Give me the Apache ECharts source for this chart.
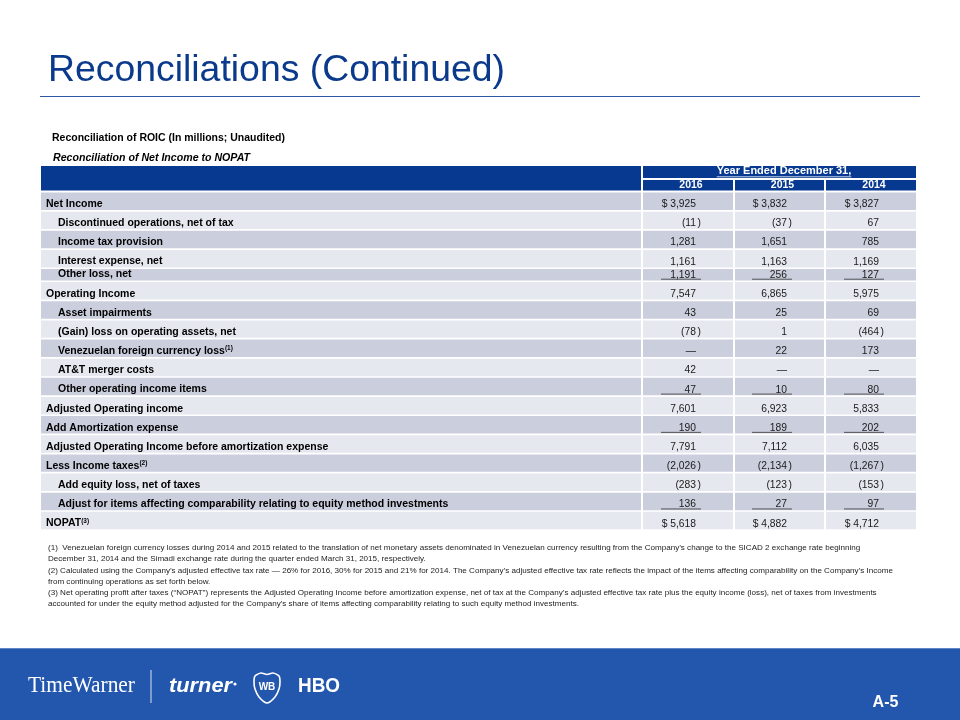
<!DOCTYPE html>
<html><head><meta charset="utf-8">
<script src="https://cdn.jsdelivr.net/npm/echarts@6/dist/echarts.min.js"></script>
<style>html,body{margin:0;padding:0;background:#fff}#c{width:960px;height:720px}</style>
</head><body><div id="c"></div>
<script>
// ---------- DATA ----------
const rowLabels = [
  'Net Income',
  'Discontinued operations, net of tax',
  'Income tax provision',
  'Interest expense, net',
  'Other loss, net',
  'Operating Income',
  'Asset impairments',
  '(Gain) loss on operating assets, net',
  'Venezuelan foreign currency loss',
  'AT&T merger costs',
  'Other operating income items',
  'Adjusted Operating income',
  'Add Amortization expense',
  'Adjusted Operating Income before amortization expense',
  'Less Income taxes',
  'Add equity loss, net of taxes',
  'Adjust for items affecting comparability relating to equity method investments',
  'NOPAT'
];
const footnoteRefs = ['', '', '', '', '', '', '', '', '(1)', '', '', '', '', '', '(2)', '', '', '(3)'];
const indentedRows = [1, 2, 3, 4, 6, 7, 8, 9, 10, 15, 16];
const underlinedRows = [4, 10, 12, 16];
const dollarRows = [0, 17];
const years = ['2016', '2015', '2014'];
const values2016 = [3925, -11, 1281, 1161, 1191, 7547, 43, -78, null, 42, 47, 7601, 190, 7791, -2026, -283, 136, 5618];
const values2015 = [3832, -37, 1651, 1163, 256, 6865, 25, 1, 22, null, 10, 6923, 189, 7112, -2134, -123, 27, 4882];
const values2014 = [3827, 67, 785, 1169, 127, 5975, 69, -464, 173, null, 80, 5833, 202, 6035, -1267, -153, 97, 4712];
const titleText = 'Reconciliations (Continued)';
const subtitle1 = 'Reconciliation of ROIC (In millions; Unaudited)';
const subtitle2 = 'Reconciliation of Net Income to NOPAT';
const headerText = 'Year Ended December 31,';
const footnotes = [
  '(1)  Venezuelan foreign currency losses during 2014 and 2015 related to the translation of net monetary assets denominated in Venezuelan currency resulting from the Company\u2019s change to the SICAD 2 exchange rate beginning',
  'December 31, 2014 and the Simadi exchange rate during the quarter ended March 31, 2015, respectively.',
  '(2) Calculated using the Company\u2019s adjusted effective tax rate \u2014 26% for 2016, 30% for 2015 and 21% for 2014. The Company\u2019s adjusted effective tax rate reflects the impact of the items affecting comparability on the Company\u2019s Income',
  'from continuing operations as set forth below.',
  '(3) Net operating profit after taxes (\u201cNOPAT\u201d) represents the Adjusted Operating Income before amortization expense, net of tax at the Company\u2019s adjusted effective tax rate plus the equity income (loss), net of taxes from investments',
  'accounted for under the equity method adjusted for the Company\u2019s share of items affecting comparability relating to such equity method investments.'
];
const pageLabel = 'A-5';

// ---------- STYLE / LAYOUT ----------
const FONT = '"Liberation Sans", Arial, Helvetica, sans-serif';
const SERIF = '"Liberation Serif", "Times New Roman", serif';
const HDR_BLUE = '#06398f';
const TITLE_BLUE = '#0b3a8c';
const ROW_DARK = '#cbcfdd';
const ROW_LIGHT = '#e6e8f0';
const FOOTER_BLUE = '#2357ae';
const TABLE_LEFT = 41, TABLE_W = 875, BODY_TOP = 192.5, BODY_H = 338.5;
const LABEL_COL = [0, 600];
const YEAR_COLS = [[602, 692], [694, 783], [785, 875]];
const SHORT_ROWS = [4];
const ROW_GAP = 1.7;
const rowUnits = rowLabels.map((_, i) => SHORT_ROWS.includes(i) ? 0.68 : 1);
const rowTop = [];
let acc = 0;
rowUnits.forEach(u => { rowTop.push(acc); acc += u; });
const TOTAL_UNITS = acc;

const mctx = document.createElement('canvas').getContext('2d');
function textW(t, font) { mctx.font = font; return mctx.measureText(t).width; }

function fmtVal(v, dollar) {
  if (v === null || isNaN(v)) return { main: '\u2014', paren: false };
  const s = Math.abs(v).toLocaleString('en-US');
  if (v < 0) return { main: '(' + s, paren: true };
  return { main: (dollar ? '$ ' : '') + s, paren: false };
}

function renderLabel(params, api) {
  const i = api.value(1);
  const p0 = api.coord([LABEL_COL[0], rowTop[i]]);
  const p1 = api.coord([LABEL_COL[1], rowTop[i] + rowUnits[i]]);
  const h = p1[1] - p0[1] - ROW_GAP;
  const bottom = p0[1] + h;
  const ref = footnoteRefs[i];
  const txt = ref ? '{a|' + rowLabels[i] + '}{s|' + ref + '}' : '{a|' + rowLabels[i] + '}';
  return {
    type: 'group',
    children: [
      { type: 'rect', shape: { x: p0[0], y: p0[1], width: p1[0] - p0[0], height: h }, style: { fill: i % 2 === 0 ? ROW_DARK : ROW_LIGHT } },
      { type: 'text', x: p0[0] + (indentedRows.includes(i) ? 17 : 5), y: bottom - 5.8,
        style: { text: txt, align: 'left', verticalAlign: 'middle',
          rich: {
            a: { fontSize: 10.5, fontWeight: 'bold', fontFamily: FONT, fill: '#000', lineHeight: 12 },
            s: { fontSize: 6.5, fontWeight: 'bold', fontFamily: FONT, fill: '#000', verticalAlign: 'top', lineHeight: 12, padding: [0, 0, 3, 0] }
          } } }
    ]
  };
}

function makeValueRender(k) {
  return function (params, api) {
    const i = api.value(0);
    const v = api.value(1);
    const col = YEAR_COLS[k];
    const p0 = api.coord([col[0], rowTop[i]]);
    const p1 = api.coord([col[1], rowTop[i] + rowUnits[i]]);
    const h = p1[1] - p0[1] - ROW_GAP;
    const bottom = p0[1] + h;
    const ax = p1[0] - 37;
    const f = fmtVal(v, dollarRows.includes(i));
    const ts = { fontSize: 10.3, fontFamily: FONT, fill: '#1a1a1a', verticalAlign: 'middle' };
    const children = [
      { type: 'rect', shape: { x: p0[0], y: p0[1], width: p1[0] - p0[0], height: h }, style: { fill: i % 2 === 0 ? ROW_DARK : ROW_LIGHT } },
      { type: 'text', x: ax, y: bottom - 5.6, style: Object.assign({ text: f.main, align: 'right' }, ts) }
    ];
    if (f.paren) children.push({ type: 'text', x: ax + 1.5, y: bottom - 5.6, style: Object.assign({ text: ')', align: 'left' }, ts) });
    if (underlinedRows.includes(i)) children.push({ type: 'line', shape: { x1: ax - 35, y1: bottom - 1.2, x2: ax + 5, y2: bottom - 1.2 }, style: { stroke: '#333', lineWidth: 0.8 } });
    return { type: 'group', children };
  };
}

// ---------- GRAPHIC (title, header, footer) ----------
function fitText(opts) {
  const font = (opts.italic ? 'italic ' : '') + (opts.bold ? 'bold ' : '') + opts.size + 'px ' + (opts.family || FONT);
  const w = textW(opts.text, font);
  const sx = opts.target ? opts.target / w : 1;
  return {
    type: 'text', x: opts.x, y: opts.y, scaleX: sx, originX: 0, originY: 0,
    style: { text: opts.text, fontSize: opts.size, fontFamily: opts.family || FONT,
      fontWeight: opts.bold ? 'bold' : 'normal', fontStyle: opts.italic ? 'italic' : 'normal',
      fill: opts.fill || '#000', align: opts.align || 'left', verticalAlign: 'middle' }
  };
}

const graphics = [];
graphics.push(fitText({ text: titleText, x: 48, y: 71, size: 36, fill: TITLE_BLUE, target: 457 }));
graphics.push({ type: 'line', shape: { x1: 40, y1: 96.5, x2: 920, y2: 96.5 }, style: { stroke: '#2f56a3', lineWidth: 1.2 } });
graphics.push(fitText({ text: subtitle1, x: 52, y: 137.5, size: 11, bold: true, target: 233 }));
graphics.push(fitText({ text: subtitle2, x: 53, y: 158, size: 11, bold: true, italic: true, target: 197 }));
// header
graphics.push({ type: 'rect', shape: { x: 41, y: 166, width: 600, height: 24.5 }, style: { fill: HDR_BLUE } });
graphics.push({ type: 'rect', shape: { x: 643, y: 166, width: 273, height: 12 }, style: { fill: HDR_BLUE } });
graphics.push(fitText({ text: headerText, x: 784, y: 171.3, size: 11, bold: true, fill: '#fff', align: 'center' }));
const hw = textW(headerText, 'bold 11px ' + FONT);
graphics.push({ type: 'line', shape: { x1: 784 - hw / 2, y1: 176.8, x2: 784 + hw / 2, y2: 176.8 }, style: { stroke: '#fff', lineWidth: 0.8 } });
YEAR_COLS.forEach((c, k) => {
  const x0 = TABLE_LEFT + c[0], x1 = TABLE_LEFT + c[1];
  graphics.push({ type: 'rect', shape: { x: x0, y: 180, width: x1 - x0, height: 10.5 }, style: { fill: HDR_BLUE } });
  graphics.push(fitText({ text: years[k], x: (x0 + x1) / 2 + 3, y: 185.5, size: 10.5, bold: true, fill: '#fff', align: 'center' }));
});
// footnotes
const fnFont = '8px ' + FONT;
const fnScale = 845 / textW(footnotes[2], fnFont);
footnotes.forEach((t, j) => {
  graphics.push({ type: 'text', x: 48, y: 548 + j * 11.2, scaleX: fnScale, originX: 0, originY: 0,
    style: { text: t, fontSize: 8, fontFamily: FONT, fill: '#222', verticalAlign: 'middle' } });
});
// footer
graphics.push({ type: 'rect', shape: { x: 0, y: 648, width: 960, height: 72 }, style: { fill: FOOTER_BLUE } });
graphics.push({ type: 'line', shape: { x1: 0, y1: 648.5, x2: 960, y2: 648.5 }, style: { stroke: '#5f86c9', lineWidth: 1 } });
graphics.push(fitText({ text: 'TimeWarner', x: 28, y: 686, size: 23, family: SERIF, fill: '#fff', target: 107 }));
graphics.push({ type: 'line', shape: { x1: 151, y1: 670, x2: 151, y2: 703 }, style: { stroke: '#d8e2f3', lineWidth: 1 } });
graphics.push(fitText({ text: 'turner', x: 169, y: 686, size: 21, bold: true, italic: true, fill: '#fff', target: 63 }));
graphics.push({ type: 'circle', shape: { cx: 235, cy: 684, r: 1.6 }, style: { fill: '#fff' } });
const shieldPts = [[1, 4], [7, 1], [13, 2.5], [19, 1], [25, 4], [26, 10], [25, 17], [21, 25], [13, 31], [5, 25], [1, 17], [0, 10]]
  .map(p => [254 + p[0], 672 + p[1]]);
graphics.push({ type: 'polygon', shape: { points: shieldPts, smooth: 0.25 }, style: { fill: FOOTER_BLUE, stroke: '#fff', lineWidth: 1.6 } });
graphics.push({ type: 'text', x: 267, y: 687, style: { text: 'WB', fontSize: 10, fontWeight: 'bold', fontFamily: FONT, fill: '#fff', align: 'center', verticalAlign: 'middle' } });
graphics.push(fitText({ text: 'HBO', x: 298, y: 686.5, size: 21, bold: true, fill: '#fff', target: 42 }));
graphics.push(fitText({ text: pageLabel, x: 885.5, y: 703, size: 16, bold: true, fill: '#fff', align: 'center' }));

// ---------- CHART ----------
const chart = echarts.init(document.getElementById('c'), null, { renderer: 'canvas' });
const valueSets = [values2016, values2015, values2014];
chart.setOption({
  animation: false,
  backgroundColor: '#fff',
  grid: { left: TABLE_LEFT, top: BODY_TOP, width: TABLE_W, height: BODY_H },
  xAxis: { type: 'value', min: 0, max: TABLE_W, show: false },
  yAxis: { type: 'value', min: 0, max: TOTAL_UNITS, inverse: true, show: false },
  graphic: graphics,
  series: [
    { type: 'custom', name: 'Line items', silent: true, clip: false,
      data: rowLabels.map((l, i) => [0, i]), renderItem: renderLabel }
  ].concat(valueSets.map((vals, k) => ({
    type: 'custom', name: years[k], silent: true, clip: false,
    data: vals.map((v, i) => [i, v === null ? NaN : v]), renderItem: makeValueRender(k)
  })))
});
</script>
</body></html>
